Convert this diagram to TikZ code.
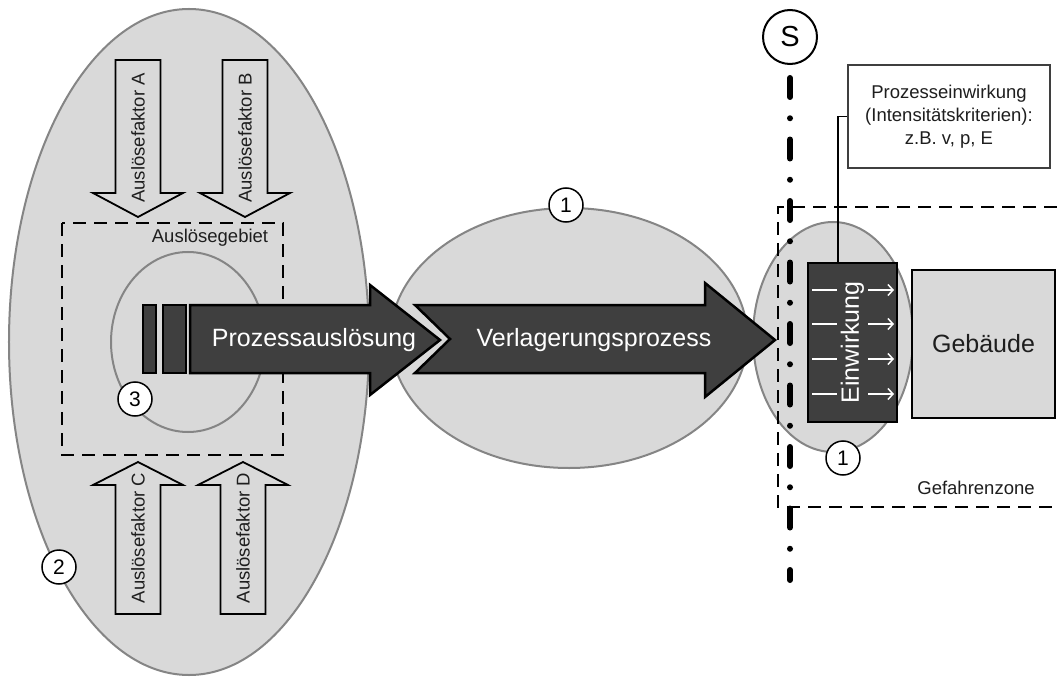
\documentclass[tikz,border=0pt]{standalone}
\usepackage{fontspec}
\setmainfont{Liberation Sans}
\usepackage{tikz}
\usetikzlibrary{shapes.geometric,arrows.meta}
\definecolor{hell}{HTML}{D9D9D9}
\definecolor{dunkel}{HTML}{3F3F3F}
\definecolor{rand}{HTML}{858585}
\definecolor{schrift}{HTML}{1E1E1E}

\begin{document}
\begin{tikzpicture}[x=1bp,y=-1bp,
  zone/.style={ellipse,draw=rand,fill=hell,line width=2bp,inner sep=0pt},
  faktor/.style={draw=black,fill=hell,line width=1.8bp},
  prozess/.style={draw=black,fill=dunkel,line width=2.5bp},
  nummer/.style={circle,draw=black,fill=white,line width=1.5bp,minimum size=34bp,inner sep=0pt,font=\fontsize{21bp}{21bp}\selectfont},
  gross/.style={font=\fontsize{25bp}{30bp}\selectfont,inner sep=0pt},
  klein/.style={font=\fontsize{18.5bp}{23bp}\selectfont,inner sep=0pt,text=schrift},
  zonenrand/.style={draw=black,line width=2bp,dash pattern=on 13bp off 8bp}]
\useasboundingbox (0,0) rectangle (1057,677);
\fill[white] (0,0) rectangle (1057,677);

% Zonen
\node[zone,minimum width=360bp,minimum height=666bp] (gebiet) at (189,342) {};
\node[zone,minimum width=357bp,minimum height=260bp] (transit) at (569,338) {};
\node[zone,minimum width=160bp,minimum height=230bp] (wirkzone) at (833,337) {};
\node[ellipse,draw=rand,line width=2bp,minimum width=154bp,minimum height=180bp] (kern) at (188,342) {};

% Ausloesegebiet
\draw[zonenrand] (62,223) rectangle (283,455);
\node[klein] (gebietlabel) at (210,238) {Auslösegebiet};

% Ausloesefaktoren
\foreach \x/\f in {138/A,245/B} {
  \draw[faktor] (\x-22.5,60) -- (\x+22.5,60) -- (\x+22.5,193) -- (\x+45,193) -- (\x,217) -- (\x-45,193) -- (\x-22.5,193) -- cycle;
  \node[klein,rotate=90] (faktor\f) at (\x,138) {Auslösefaktor \f};
}
\foreach \x/\f in {138/C,243/D} {
  \draw[faktor] (\x-22.5,614) -- (\x+22.5,614) -- (\x+22.5,485) -- (\x+45,485) -- (\x,462) -- (\x-45,485) -- (\x-22.5,485) -- cycle;
  \node[klein,rotate=90] (faktor\f) at (\x,538) {Auslösefaktor \f};
}

% Gefahrenzone und Systemgrenze
\draw[zonenrand] (1057,207) -- (778,207) -- (778,507) -- (1057,507);
\node[klein] (zonelabel) at (976,488) {Gefahrenzone};
\node[circle,draw=black,line width=2bp,minimum size=54bp,inner sep=0pt,font=\fontsize{29bp}{29bp}\selectfont] (S) at (790,37) {S};
\coordinate (grenzende) at (790,580);
\draw[line width=6bp,line cap=round,dash pattern=on 19bp off 21.25bp on 0bp off 21.25bp] ([yshift=-13bp]S.south) -- (grenzende);

% Prozessausloesung
\draw[prozess] (143,305) rectangle (156,373);
\draw[prozess] (163,305) rectangle (186,373);
\draw[prozess] (190,305) -- (370,305) -- (370,285) -- (440,340) -- (370,395) -- (370,373) -- (190,373) -- cycle;
\node[gross,text=white] (ausloesung) at (314,340) {Prozessauslösung};

% Verlagerungsprozess
\draw[prozess] (415,305) -- (705,305) -- (705,283) -- (775,340) -- (705,397) -- (705,373) -- (415,373) -- (450,339) -- cycle;
\node[gross,text=white] (verlagerung) at (594,340) {Verlagerungsprozess};

% Einwirkung und Gebaeude
\node[prozess,minimum width=89bp,minimum height=159bp,inner sep=0pt] (einwirkung) at (852.5,342.5) {};
\node[gross,text=white,rotate=90] (einwirkungtext) at (einwirkung.center) {Einwirkung};
\foreach \y in {290,324,359,394} {
  \draw[white,line width=2bp] (812,\y) -- (837,\y);
  \draw[white,line width=1.5bp,-{Straight Barb[length=5bp,width=11bp]}] (868,\y) -- (894,\y);
}
\node[draw=black,fill=hell,line width=2.5bp,minimum width=143bp,minimum height=148bp,gross,text=schrift] (gebaeude) at (983.5,344) {Gebäude};

\node[draw=dunkel,fill=white,line width=2bp,minimum width=202bp,minimum height=103bp,klein,align=center] (kasten) at (949,116.5) {Prozesseinwirkung\\(Intensitätskriterien):\\z.B. v, p, E};
\draw[line width=1.5bp] (kasten.west) -| ([xshift=-14.5bp]einwirkung.north);

% Nummern
\node[nummer] (n1a) at (566,205) {1};
\node[nummer] (n1b) at (843,458) {1};
\node[nummer] (n2) at (59,567) {2};
\node[nummer] (n3) at (135,399) {3};
\end{tikzpicture}
\end{document}
